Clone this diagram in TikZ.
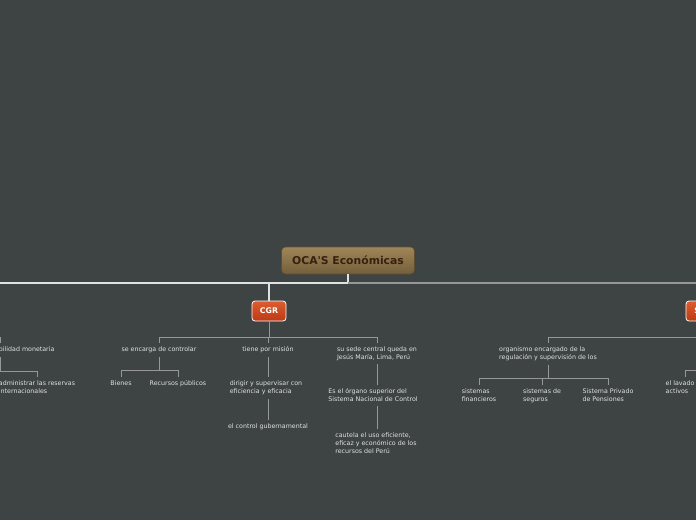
\documentclass[tikz,border=0pt]{standalone}
\usepackage{fontspec}
\setmainfont{DejaVu Sans}
\usetikzlibrary{calc}

\definecolor{fondo}{RGB}{62,67,67}
\definecolor{textogris}{RGB}{226,226,226}
\definecolor{lineagris}{RGB}{150,152,152}
\definecolor{lineaclara}{RGB}{225,225,225}
\definecolor{cafearriba}{RGB}{160,134,88}
\definecolor{cafeabajo}{RGB}{116,95,60}
\definecolor{cafeborde}{RGB}{95,78,48}
\definecolor{cafetexto}{RGB}{58,32,16}
\definecolor{rojoarriba}{RGB}{222,92,46}
\definecolor{rojoabajo}{RGB}{188,58,22}

\begin{document}
\begin{tikzpicture}[x=1pt,y=-1pt,
    texto/.style={text=textogris,font=\fontsize{6.3}{8}\selectfont,align=left,inner xsep=1.5pt,inner ysep=3.5pt,anchor=north},
    linea/.style={draw=lineagris,line width=1pt},
    lineamain/.style={draw=lineaclara,line width=1.2pt},
    lineamaingris/.style={draw=lineagris,line width=1.2pt},
    rama/.style={draw=white,line width=0.8pt,rounded corners=3pt,top color=rojoarriba,bottom color=rojoabajo,
      text=white,font=\fontsize{7.8}{9}\bfseries,minimum width=34pt,minimum height=20pt,inner sep=0pt}]
  %%%%% FONDO %%%%%
  \useasboundingbox (0,0) rectangle (696,520);
  \clip (0,0) rectangle (696,520);
  \fill[fondo] (0,0) rectangle (696,520);

  %%%%% NODOS %%%%%
  \node[draw=cafeborde,line width=0.6pt,rounded corners=4pt,top color=cafearriba,bottom color=cafeabajo,
    text=cafetexto,font=\fontsize{10.8}{12}\bfseries,minimum width=133pt,minimum height=27pt,inner sep=0pt]
    (titulo) at (348,260.5) {OCA\textquotesingle S Económicas};
  \node[rama] (cgr) at (269,311) {CGR};
  \node[rama] (sbs) at (703,311) {SBS};

  % rama izquierda
  \node[texto,align=center] (preservar) at (0,343) {preservar la estabilidad monetaria};
  \node[texto] (administrar) at (37,377) {administrar las reservas\\internacionales};

  % CGR
  \node[texto] (controlar) at (159,343) {se encarga de controlar};
  \node[texto] (bienes) at (121,377) {Bienes};
  \node[texto] (recursos) at (178,377) {Recursos públicos};
  \node[texto] (mision) at (268,343) {tiene por misión};
  \node[texto] (dirigir) at (266,377) {dirigir y supervisar con\\eficiencia y eficacia};
  \node[texto] (gubernamental) at (268,420) {el control gubernamental};
  \node[texto] (sede) at (377,343) {su sede central queda en\\Jesús María, Lima, Perú};
  \node[texto] (organo) at (373,385) {Es el órgano superior del\\Sistema Nacional de Control};
  \node[texto] (cautela) at (376,429) {cautela el uso eficiente,\\eficaz y económico de los\\recursos del Perú};

  % SBS
  \node[texto] (organismo) at (548,343) {organismo encargado de la\\regulación y supervisión de los};
  \node[texto] (financieros) at (479,385) {sistemas\\financieros};
  \node[texto] (seguros) at (542,385) {sistemas de\\seguros};
  \node[texto] (privado) at (608,385) {Sistema Privado\\de Pensiones};
  \node[texto] (lavado) at (685,377) {el lavado de\\activos};

  %%%%% CONECTORES %%%%%
  \coordinate (bordeizq) at (-10,283);
  \coordinate (bordeder) at (706,283);
  \draw[lineamain] (titulo.south) -- (titulo.south |- 0,283);
  \draw[lineamain] (bordeizq) -- (titulo.south |- 0,283);
  \draw[lineamaingris] (titulo.south |- 0,283) -- (bordeder);
  \draw[lineamain] (cgr.north) -- (cgr.north |- 0,283);
  \draw[lineamaingris] (sbs.north) -- (sbs.north |- 0,283);

  \coordinate (busizq) at (-20,337);
  \coordinate (busizq2) at (-20,371);
  \draw[linea] (busizq) -| (preservar.north);
  \draw[linea] (preservar.south) -- (preservar.south |- 0,371) -| (administrar.north);
  \draw[linea] (preservar.south |- 0,371) -- (busizq2);

  \draw[linea] (cgr.south) -- (cgr.south |- 0,337) -| (controlar.north);
  \draw[linea] (cgr.south |- 0,337) -| (mision.north);
  \draw[linea] (cgr.south |- 0,337) -| (sede.north);
  \draw[linea] (controlar.south) -- (controlar.south |- 0,370) -| (bienes.north);
  \draw[linea] (controlar.south |- 0,370) -| (recursos.north);
  \draw[linea] (mision.south) -- (mision.south |- dirigir.north);
  \draw[linea] (mision.south |- dirigir.south) -- (mision.south |- gubernamental.north);
  \draw[linea] (sede.south) -- (sede.south |- organo.north);
  \draw[linea] (sede.south |- organo.south) -- (sede.south |- cautela.north);

  \coordinate (busder) at (720,370);
  \draw[linea] (sbs.south) -- (sbs.south |- 0,337) -| (organismo.north);
  \draw[linea] (organismo.south) -- (organismo.south |- 0,378) -| (financieros.north);
  \draw[linea] (organismo.south |- 0,378) -| (seguros.north);
  \draw[linea] (organismo.south |- 0,378) -| (privado.north);
  \draw[linea] (busder) -| (lavado.north);
\end{tikzpicture}
\end{document}
